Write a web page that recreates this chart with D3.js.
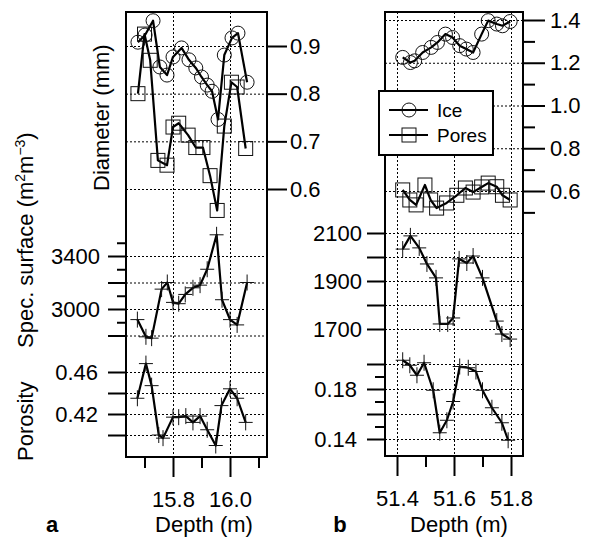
<!DOCTYPE html>
<html>
<head>
<meta charset="utf-8">
<script src="https://cdnjs.cloudflare.com/ajax/libs/d3/7.8.5/d3.min.js"></script>
<style>
  body { margin: 0; background: #fff; }
  svg { font-family: "Liberation Sans", Arial, Helvetica, sans-serif; }
  .grid line { stroke: #000; stroke-width: 1; stroke-dasharray: 2,2; }
  .ax line { stroke: #000; stroke-width: 2; }
  .ax text { font-family: "Liberation Sans", Arial, sans-serif; font-size: 22px; fill: #000; }
  .lbl { font-size: 22px; fill: #000; }
</style>
</head>
<body>
<svg id="chart" width="591" height="542"></svg>
<script>
// DATA

// panel a : depth 15.6 - 16.1 m
var aIceDepth  = [15.677, 15.702, 15.73, 15.754, 15.779, 15.80, 15.83, 15.856, 15.88, 15.90, 15.92, 15.937, 15.958, 15.98, 16.007, 16.028, 16.06]
var aIce       = [0.908, 0.923, 0.953, 0.856, 0.839, 0.877, 0.896, 0.871, 0.854, 0.835, 0.818, 0.805, 0.746, 0.881, 0.917, 0.927, 0.824]
var aPoreDepth = [15.677, 15.70, 15.72, 15.747, 15.779, 15.80, 15.82, 15.853, 15.88, 15.905, 15.93, 15.955, 15.98, 16.005, 16.025, 16.055]
var aPore      = [0.80, 0.925, 0.87, 0.66, 0.65, 0.73, 0.738, 0.713, 0.687, 0.687, 0.628, 0.555, 0.732, 0.824, 0.814, 0.685]
var aSsaDepth  = [15.675, 15.705, 15.725, 15.76, 15.78, 15.80, 15.82, 15.843, 15.87, 15.895, 15.92, 15.953, 15.972, 16.0, 16.025, 16.06]
var aSsa       = [2920, 2790, 2780, 3150, 3200, 3050, 3040, 3110, 3160, 3180, 3300, 3560, 3070, 2920, 2880, 3200]
var aPorDepth  = [15.675, 15.705, 15.725, 15.75, 15.765, 15.80, 15.82, 15.845, 15.87, 15.895, 15.92, 15.95, 15.97, 16.0, 16.025, 16.055]
var aPor       = [0.435, 0.468, 0.447, 0.40, 0.397, 0.417, 0.417, 0.418, 0.412, 0.418, 0.405, 0.39, 0.428, 0.444, 0.435, 0.412]

// panel b : depth 51.35 - 51.85 m
var bIceDepth  = [51.42, 51.447, 51.462, 51.49, 51.52, 51.542, 51.57, 51.595, 51.62, 51.643, 51.667, 51.697, 51.72, 51.75, 51.77, 51.797]
var bIce       = [1.225, 1.201, 1.209, 1.248, 1.272, 1.295, 1.334, 1.318, 1.28, 1.264, 1.248, 1.334, 1.397, 1.381, 1.373, 1.393]
var bPoreDepth = [51.42, 51.445, 51.467, 51.498, 51.518, 51.539, 51.574, 51.61, 51.64, 51.667, 51.697, 51.72, 51.75, 51.77, 51.797]
var bPore      = [0.605, 0.558, 0.535, 0.628, 0.558, 0.52, 0.544, 0.58, 0.614, 0.595, 0.619, 0.637, 0.62, 0.58, 0.558]
var bSsaDepth  = [51.42, 51.447, 51.478, 51.505, 51.537, 51.55, 51.578, 51.597, 51.618, 51.645, 51.667, 51.70, 51.75, 51.768, 51.797]
var bSsa       = [2033, 2088, 2038, 1971, 1913, 1721, 1721, 1746, 1992, 1975, 2004, 1913, 1733, 1679, 1658]
var bPorDepth  = [51.42, 51.445, 51.47, 51.495, 51.527, 51.55, 51.575, 51.597, 51.62, 51.65, 51.677, 51.70, 51.733, 51.768, 51.79]
var bPor       = [0.203, 0.199, 0.191, 0.201, 0.179, 0.145, 0.155, 0.170, 0.198, 0.197, 0.194, 0.179, 0.165, 0.153, 0.139]

// TICKS
var aDepthMajor = [15.8, 16.0], aDepthMinor = [15.7, 15.9, 16.1]
var bDepthMajor = [51.4, 51.6, 51.8], bDepthMinor = [51.5, 51.7]
var aDiamTicks = [0.6, 0.7, 0.8, 0.9]
var aSsaMajor = [2800, 3000, 3200, 3400], aSsaMinor = [2900, 3100, 3300, 3500], aSsaLabels = [3000, 3400]
var aPorTicks = [0.40, 0.42, 0.44, 0.46], aPorLabels = [0.42, 0.46]
var bDiamMajor = [0.6, 0.8, 1.0, 1.2, 1.4], bDiamMinor = [0.5, 0.7, 0.9, 1.1, 1.3]
var bSsaTicks = [1700, 1800, 1900, 2000, 2100], bSsaLabels = [1700, 1900, 2100]
var bPorMajor = [0.14, 0.16, 0.18, 0.20], bPorMinor = [0.15, 0.17, 0.19], bPorLabels = [0.14, 0.18]

var legendNames = ['Ice', 'Pores']

// LAYOUT
var svg = d3.select('#chart')
var pa = {x0: 126, x1: 267, top: 12, bottom: 457}
var pb = {x0: 385, x1: 523, top: 12, bottom: 456}

// x scales (depth)
var xa = d3.scaleLinear().domain([15.8, 16.0]).range([173, 230])
var xb = d3.scaleLinear().domain([51.4, 51.8]).range([397, 511])

// y scales: each variable lives in its own band of the frame
var yaDiam = d3.scaleLinear().domain([0.6, 0.9]).range([189, 46])
var yaSsa  = d3.scaleLinear().domain([3000, 3400]).range([309, 256])
var yaPor  = d3.scaleLinear().domain([0.42, 0.46]).range([414, 372])
var ybDiam = d3.scaleLinear().domain([0.6, 1.4]).range([191, 20])
var ybSsa  = d3.scaleLinear().domain([1700, 2100]).range([329, 233])
var ybPor  = d3.scaleLinear().domain([0.14, 0.18]).range([439, 389])

// Dotted grid lines
function hgrid(p, y, vals) {
  svg.append('g').attr('class', 'grid')
    .attr('transform', `translate(${p.x0},0)`)
    .call(d3.axisRight(y).tickValues(vals).tickSize(p.x1 - p.x0).tickFormat(''))
    .call(g => g.select('.domain').remove())
}
function vgrid(p, x, vals) {
  svg.append('g').attr('class', 'grid')
    .attr('transform', `translate(0,${p.top})`)
    .call(d3.axisBottom(x).tickValues(vals).tickSize(p.bottom - p.top).tickFormat(''))
    .call(g => g.select('.domain').remove())
}

// Tick marks (with optional labels) on one side of the frame
function yticks(p, y, side, vals, len, labels, fmt, pad) {
  var ax = side == 'left' ? d3.axisLeft(y) : d3.axisRight(y)
  ax.tickValues(vals).tickSize(len).tickPadding(pad)
    .tickFormat(d => labels.includes(d) ? d3.format(fmt)(d) : '')
  svg.append('g').attr('class', 'ax')
    .attr('transform', `translate(${side == 'left' ? p.x0 : p.x1},0)`)
    .call(ax)
    .call(g => g.select('.domain').remove())
}
function xticks(p, x, vals, len, labels, fmt) {
  svg.append('g').attr('class', 'ax')
    .attr('transform', `translate(0,${p.bottom})`)
    .call(d3.axisBottom(x).tickValues(vals).tickSize(len).tickPadding(14)
      .tickFormat(d => labels.includes(d) ? d3.format(fmt)(d) : ''))
    .call(g => g.select('.domain').remove())
}

// Data line + markers
function series(xs, ys, x, y, marker) {
  var pts = xs.map((d, i) => [x(d), y(ys[i])])
  svg.append('path')
    .attr('d', d3.line()(pts))
    .attr('fill', 'none').attr('stroke', '#000').attr('stroke-width', 2.2)
    .attr('stroke-linejoin', 'round')
  var g = svg.append('g').attr('fill', 'none').attr('stroke', '#111').attr('stroke-width', 1)
  drawMarkers(g, pts, marker)
}
function drawMarkers(g, pts, marker) {
  if (marker == 'circle') {
    g.selectAll('circle').data(pts).join('circle')
      .attr('cx', d => d[0]).attr('cy', d => d[1]).attr('r', 7)
  } else if (marker == 'square') {
    g.selectAll('rect').data(pts).join('rect')
      .attr('x', d => d[0] - 7).attr('y', d => d[1] - 7).attr('width', 14).attr('height', 14)
  } else {
    g.selectAll('path').data(pts).join('path')
      .attr('d', d => `M${d[0] - 7},${d[1]}H${d[0] + 7}M${d[0]},${d[1] - 8}V${d[1] + 8}`)
  }
}

// PANEL a
vgrid(pa, xa, aDepthMajor)
hgrid(pa, yaDiam, aDiamTicks)
hgrid(pa, yaSsa, aSsaMajor)
hgrid(pa, yaPor, aPorTicks)
series(aIceDepth, aIce, xa, yaDiam, 'circle')
series(aPoreDepth, aPore, xa, yaDiam, 'square')
series(aSsaDepth, aSsa, xa, yaSsa, 'plus')
series(aPorDepth, aPor, xa, yaPor, 'plus')
yticks(pa, yaDiam, 'right', aDiamTicks, 20, aDiamTicks, '.1f', 3)
yticks(pa, yaSsa, 'left', aSsaMajor, 18, aSsaLabels, 'd', 8)
yticks(pa, yaSsa, 'left', aSsaMinor, 9, [], 'd', 8)
yticks(pa, yaPor, 'left', aPorTicks, 18, aPorLabels, '.2f', 10)
xticks(pa, xa, aDepthMajor, 20, aDepthMajor, '.1f')
xticks(pa, xa, aDepthMinor, 11, [], '.1f')

// PANEL b
vgrid(pb, xb, bDepthMajor)
hgrid(pb, ybDiam, bDiamMajor)
hgrid(pb, ybSsa, bSsaTicks)
hgrid(pb, ybPor, bPorMajor)
series(bIceDepth, bIce, xb, ybDiam, 'circle')
series(bPoreDepth, bPore, xb, ybDiam, 'square')
series(bSsaDepth, bSsa, xb, ybSsa, 'plus')
series(bPorDepth, bPor, xb, ybPor, 'plus')
yticks(pb, ybDiam, 'right', bDiamMajor, 22, bDiamMajor, '.1f', 5)
yticks(pb, ybDiam, 'right', bDiamMinor, 12, [], '.1f', 5)
yticks(pb, ybSsa, 'left', bSsaTicks, 18, bSsaLabels, 'd', 5)
yticks(pb, ybPor, 'left', bPorMajor, 18, bPorLabels, '.2f', 10)
yticks(pb, ybPor, 'left', bPorMinor, 10, [], '.2f', 10)
xticks(pb, xb, bDepthMajor, 20, bDepthMajor, '.1f')
xticks(pb, xb, bDepthMinor, 11, [], '.1f')

// Frames
for (var p of [pa, pb]) {
  svg.append('rect')
    .attr('x', p.x0).attr('y', p.top)
    .attr('width', p.x1 - p.x0).attr('height', p.bottom - p.top)
    .attr('fill', 'none').attr('stroke', '#000').attr('stroke-width', 2)
}

// Legend (panel b)
var lg = svg.append('g').attr('transform', 'translate(379,91)')
lg.append('rect').attr('width', 114).attr('height', 64)
  .attr('fill', '#fff').attr('stroke', '#000').attr('stroke-width', 2)
legendNames.forEach(function (name, i) {
  var cy = 19 + i * 25
  lg.append('line').attr('x1', 10).attr('x2', 49).attr('y1', cy).attr('y2', cy)
    .attr('stroke', '#000').attr('stroke-width', 2)
  var mg = lg.append('g').attr('fill', 'none').attr('stroke', '#111').attr('stroke-width', 1)
  drawMarkers(mg, [[30, cy]], i == 0 ? 'circle' : 'square')
  lg.append('text').attr('class', 'lbl').attr('x', 58).attr('y', cy).attr('dy', '0.35em')
    .style('font-size', '19px').text(name)
})

// Axis titles
function vtitle(x, y, anchor) {
  return svg.append('text').attr('class', 'lbl')
    .attr('transform', `translate(${x},${y}) rotate(-90)`)
    .attr('text-anchor', anchor)
}
vtitle(109, 191, 'start').text('Diameter (mm)')
var ssa = vtitle(33, 348, 'start')
ssa.append('tspan').text('Spec. surface (m')
ssa.append('tspan').attr('dy', -8).style('font-size', '14px').text('2')
ssa.append('tspan').attr('dy', 8).text('m')
ssa.append('tspan').attr('dy', -8).style('font-size', '14px').text('\u22123')
ssa.append('tspan').attr('dy', 8).text(')')
vtitle(33, 461, 'start').text('Porosity')

svg.append('text').attr('class', 'lbl').attr('x', 204).attr('y', 532)
  .attr('text-anchor', 'middle').text('Depth (m)')
svg.append('text').attr('class', 'lbl').attr('x', 459).attr('y', 532)
  .attr('text-anchor', 'middle').text('Depth (m)')
svg.append('text').attr('class', 'lbl').attr('x', 52).attr('y', 532)
  .attr('text-anchor', 'middle').style('font-weight', 'bold').text('a')
svg.append('text').attr('class', 'lbl').attr('x', 340).attr('y', 532)
  .attr('text-anchor', 'middle').style('font-weight', 'bold').text('b')
</script>
</body>
</html>
